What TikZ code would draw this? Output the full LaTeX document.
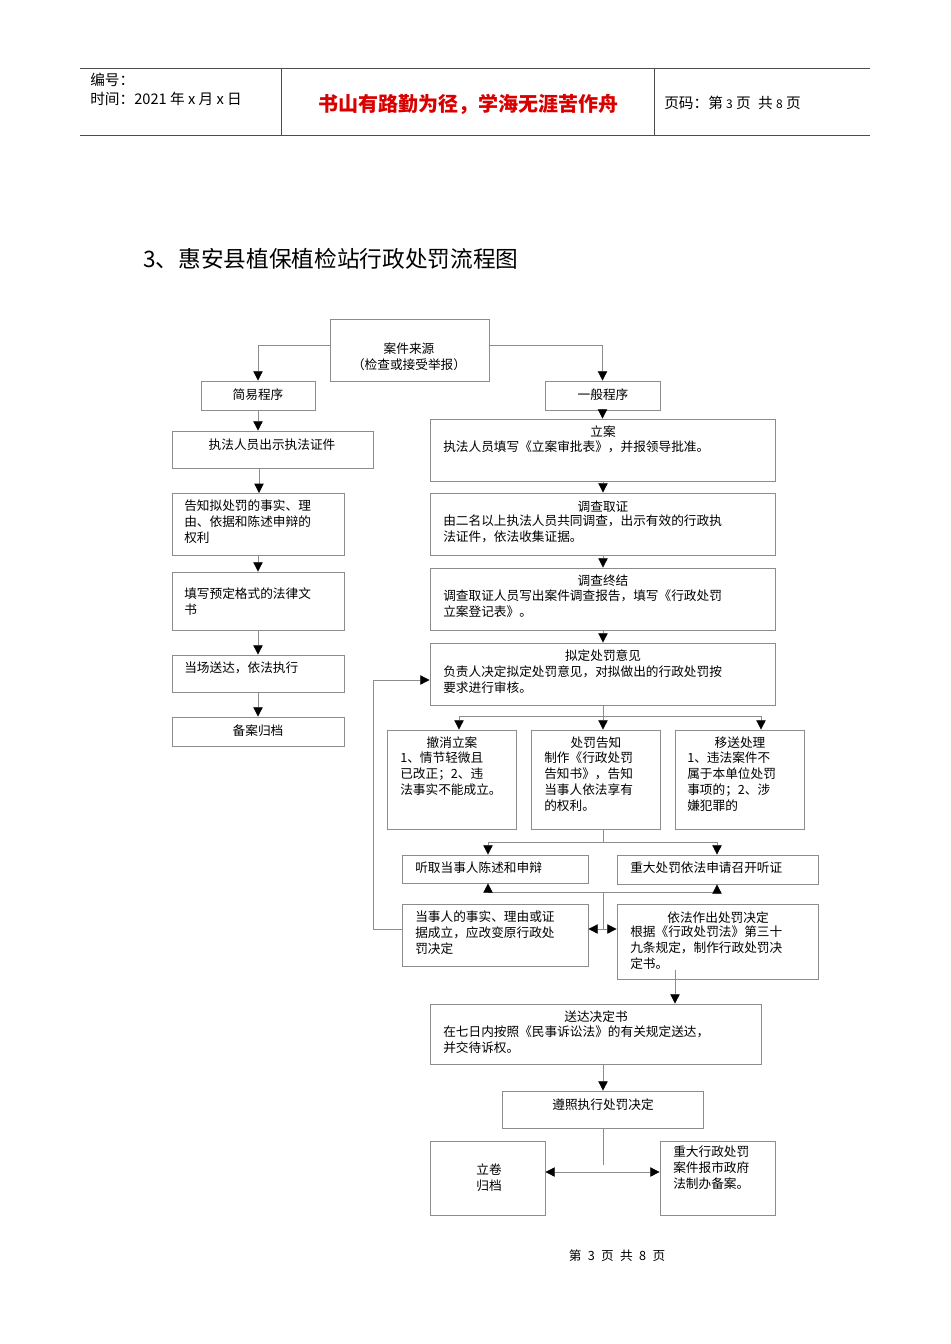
\documentclass[tikz,border=0pt]{standalone}
\usepackage{fontspec}
\setmainfont{Liberation Serif}
\newfontfamily\cjk{Noto Sans CJK SC}
\usetikzlibrary{fit,arrows.meta}
\begin{document}
\begin{tikzpicture}[x=0.75pt,y=-0.75pt,
  box/.style={draw=black!45,line width=0.6pt,inner sep=0pt},
  ln/.style={draw=black!45,line width=0.6pt},
  ar/.style={ln,-{Triangle[black,length=7pt,width=7pt]}},
  dar/.style={ln,{Triangle[black,length=7pt,width=7pt]}-{Triangle[black,length=7pt,width=7pt]}},
  txt/.style={font=\cjk\fontsize{9.5}{12}\selectfont,inner sep=0pt,align=left},
  ttl/.style={txt,anchor=center}]
\useasboundingbox (0,0) rectangle (950,1344);
% header
\draw[black!70,line width=0.6pt] (80,68) -- (870,68) (80,135) -- (870,135) (281,68) -- (281,135) (654,68) -- (654,135);
\node[txt,anchor=west,font=\cjk\fontsize{11}{13}\selectfont] (h1) at (90,80) {编号：};
\node[txt,anchor=west,font=\cjk\fontsize{11}{13}\selectfont] (h2) at (90,99) {时间：2021 年 x 月 x 日};
\node[txt,anchor=center,text=red!85!black,font=\cjk\bfseries\fontsize{15}{17}\selectfont] (h3) at (468,104) {书山有路勤为径，学海无涯苦作舟};
\node[txt,anchor=west,font=\cjk\fontsize{11}{13}\selectfont] (h4) at (664,103) {页码：第 {\fontsize{9}{11}\selectfont 3} 页\enspace 共 {\fontsize{9}{11}\selectfont 8} 页};
\node[txt,anchor=west,font=\cjk\fontsize{17}{20}\selectfont] (title) at (143,259) {3、惠安县植保植检站行政处罚流程图};
% boxes
\node[box,fit={(330,319) (489,381)}] (src) {};
\node[box,fit={(201,381) (315,410)}] (jy) {};
\node[box,fit={(545,381) (660,410)}] (yb) {};
\node[box,fit={(172,431) (373,468)}] (l1) {};
\node[box,fit={(172,493) (344,555)}] (l2) {};
\node[box,fit={(172,572) (344,630)}] (l3) {};
\node[box,fit={(172,655) (344,692)}] (l4) {};
\node[box,fit={(172,717) (344,746)}] (l5) {};
\node[box,fit={(430,419) (775,481)}] (r1) {};
\node[box,fit={(430,493) (775,555)}] (r2) {};
\node[box,fit={(430,568) (775,630)}] (r3) {};
\node[box,fit={(430,643) (775,705)}] (r4) {};
\node[box,fit={(387,730) (516,829)}] (c1) {};
\node[box,fit={(531,730) (660,829)}] (c2) {};
\node[box,fit={(675,730) (804,829)}] (c3) {};
\node[box,fit={(402,855) (588,883)}] (t1) {};
\node[box,fit={(617,855) (818,884)}] (t2) {};
\node[box,fit={(402,904) (588,966)}] (u1) {};
\node[box,fit={(617,904) (818,979)}] (u2) {};
\node[box,fit={(430,1004) (761,1064)}] (sd) {};
\node[box,fit={(502,1091) (703,1128)}] (zz) {};
\node[box,fit={(430,1141) (545,1215)}] (lj) {};
\node[box,fit={(660,1141) (775,1215)}] (zd) {};
% texts
\node[ttl] (s1) at (409,349) {案件来源};
\node[ttl] (s2) at (409,365) {（检查或接受举报）};
\node[ttl] (jyt) at (258,395) {简易程序};
\node[ttl] (ybt) at (603,395) {一般程序};
\node[ttl] (l1t) at (272,445) {执法人员出示执法证件};
\node[txt,anchor=north west] (l2t) at (184,500) {告知拟处罚的事实、理\\由、依据和陈述申辩的\\权利};
\node[txt,anchor=north west] (l3t) at (184,587) {填写预定格式的法律文\\书};
\node[txt,anchor=north west] (l4t) at (184,662) {当场送达，依法执行};
\node[ttl] (l5t) at (258,731) {备案归档};
\node[ttl] (r1a) at (603,432) {立案};
\node[txt,anchor=north west] (r1t) at (443,441) {执法人员填写《立案审批表》，并报领导批准。};
\node[ttl] (r2a) at (603,507) {调查取证};
\node[txt,anchor=north west] (r2t) at (443,515) {由二名以上执法人员共同调查，出示有效的行政执\\法证件，依法收集证据。};
\node[ttl] (r3a) at (603,581) {调查终结};
\node[txt,anchor=north west] (r3t) at (443,590) {调查取证人员写出案件调查报告，填写《行政处罚\\立案登记表》。};
\node[ttl] (r4a) at (603,656) {拟定处罚意见};
\node[txt,anchor=north west] (r4t) at (443,665) {负责人决定拟定处罚意见，对拟做出的行政处罚按\\要求进行审核。};
\node[ttl] (c1a) at (452,743) {撤消立案};
\node[txt,anchor=north west] (c1t) at (400,752) {1、情节轻微且\\已改正；2、违\\法事实不能成立。};
\node[ttl] (c2a) at (596,743) {处罚告知};
\node[txt,anchor=north west] (c2t) at (544,752) {制作《行政处罚\\告知书》，告知\\当事人依法享有\\的权利。};
\node[ttl] (c3a) at (740,743) {移送处理};
\node[txt,anchor=north west] (c3t) at (687,752) {1、违法案件不\\属于本单位处罚\\事项的；2、涉\\嫌犯罪的};
\node[txt,anchor=west] (t1t) at (415,868) {听取当事人陈述和申辩};
\node[txt,anchor=west] (t2t) at (630,868) {重大处罚依法申请召开听证};
\node[txt,anchor=north west] (u1t) at (415,910) {当事人的事实、理由或证\\据成立，应改变原行政处\\罚决定};
\node[ttl] (u2a) at (718,918) {依法作出处罚决定};
\node[txt,anchor=north west] (u2t) at (630,926) {根据《行政处罚法》第三十\\九条规定，制作行政处罚决\\定书。};
\node[ttl] (sda) at (596,1017) {送达决定书};
\node[txt,anchor=north west] (sdt) at (443,1025) {在七日内按照《民事诉讼法》的有关规定送达，\\并交待诉权。};
\node[ttl] (zzt) at (603,1105) {遵照执行处罚决定};
\node[txt,anchor=center] (ljt) at (489,1178) {立卷\\归档};
\node[txt,anchor=north west] (zdt) at (673,1146) {重大行政处罚\\案件报市政府\\法制办备案。};
\node[txt,anchor=center,font=\cjk\fontsize{9.5}{12}\selectfont] (foot) at (617,1256) {第\enspace 3\enspace 页\enspace 共\enspace 8\enspace 页};
% connectors
\draw[ar] (src.west |- 0,345) -| (jy.north);
\draw[ar] (src.east |- 0,345) -| (yb.north);
\draw[ar] (jy.south) -- (l1.north -| jy.south);
\draw[ar] (l1.south -| 259,0) -- (259,493);
\draw[ar] (l2.south) -- (l3.north);
\draw[ar] (l3.south) -- (l4.north);
\draw[ar] (l4.south) -- (l5.north);
\draw[ar] (yb.south) -- (r1.north -| yb.south);
\draw[ar] (r1.south -| 603,0) -- (r2.north -| 603,0);
\draw[ar] (r2.south -| 603,0) -- (r3.north -| 603,0);
\draw[ar] (r3.south -| 603,0) -- (r4.north -| 603,0);
\coordinate (b1) at (603,716);
\draw[ln] (r4.south -| 603,0) -- (b1);
\draw[ar] (b1) -| (c1.north -| 459,0);
\draw[ar] (b1) -- (c2.north -| b1);
\draw[ar] (b1) -| (c3.north -| 761,0);
\coordinate (b2) at (603,842);
\draw[ln] (c2.south -| b2) -- (b2);
\draw[ar] (b2) -| (t1.north -| 488,0);
\draw[ar] (b2) -| (t2.north -| 717,0);
\coordinate (b3) at (603,892);
\draw[ar] (b3) -| (t1.south -| 488,0);
\draw[ar] (b3) -| (t2.south -| 717,0);
\coordinate (b4) at (603,929);
\draw[ln] (b3) -- (b4);
\draw[ar] (b4) -- (u1.east |- b4);
\draw[ar] (b4) -- (u2.west |- b4);
\coordinate (b5) at (373,929);
\draw[ar] (u1.west |- b5) -- (b5) |- (r4.west |- 0,680);
\draw[ar] (u2.south -| 675,0) ++(0,-9) -- (sd.north -| 675,0);
\draw[ar] (sd.south -| 603,0) -- (zz.north -| 603,0);
\coordinate (b6) at (603,1172);
\draw[ln] (zz.south -| 603,0) -- (603,1165);
\draw[dar] (lj.east |- b6) -- (zd.west |- b6);
\end{tikzpicture}
\end{document}
